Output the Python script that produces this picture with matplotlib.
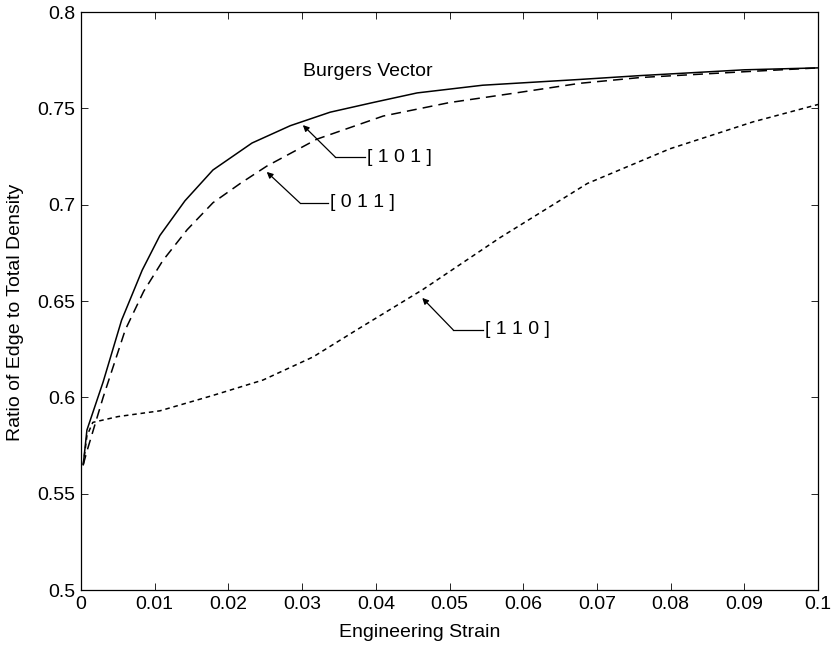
import matplotlib
matplotlib.use('Agg')
import matplotlib.pyplot as plt
from matplotlib.ticker import FuncFormatter, MultipleLocator

plt.rcParams['font.family'] = ['Liberation Sans', 'DejaVu Sans']

# Burgers vector [1 0 1]
strain_101 = [0.0003, 0.0008, 0.003, 0.0055, 0.0083, 0.0107, 0.0141, 0.0179, 0.0232,
              0.0284, 0.0338, 0.0396, 0.0456, 0.0545, 0.0677, 0.0759, 0.09, 0.1]
ratio_101 = [0.565, 0.583, 0.608, 0.640, 0.666, 0.684, 0.702, 0.718, 0.732,
             0.741, 0.748, 0.753, 0.758, 0.762, 0.765, 0.767, 0.770, 0.771]

# Burgers vector [0 1 1]
strain_011 = [0.0003, 0.0008, 0.003, 0.006, 0.0085, 0.0111, 0.0144, 0.0179, 0.0216,
              0.0252, 0.032, 0.041, 0.050, 0.059, 0.0677, 0.0759, 0.09, 0.1]
ratio_011 = [0.565, 0.572, 0.600, 0.635, 0.655, 0.671, 0.687, 0.701, 0.711,
             0.720, 0.734, 0.746, 0.753, 0.758, 0.763, 0.766, 0.769, 0.771]

# Burgers vector [1 1 0]
strain_110 = [0.0003, 0.0008, 0.0016, 0.005, 0.0107, 0.0179, 0.0247, 0.0315,
              0.0374, 0.0464, 0.0569, 0.0687, 0.0799, 0.0912, 0.1]
ratio_110 = [0.565, 0.580, 0.587, 0.590, 0.593, 0.601, 0.609, 0.621,
             0.635, 0.656, 0.683, 0.711, 0.729, 0.743, 0.752]

# label text, arrow tip, elbow, end of the horizontal leader
labels = ['[ 1 0 1 ]', '[ 0 1 1 ]', '[ 1 1 0 ]']
tips = [(0.0301, 0.7413), (0.0252, 0.717), (0.0463, 0.6516)]
elbows = [(0.0345, 0.7247), (0.0297, 0.7009), (0.0505, 0.635)]
leader_ends = [0.0385, 0.0335, 0.0545]

FS = 14

fig = plt.figure(figsize=(8.31, 6.49), dpi=100)
ax = fig.add_axes([0.0975, 0.0909, 0.8869, 0.8906])

ax.plot(strain_101, ratio_101, color='black', linewidth=1.1, linestyle='-')
ax.plot(strain_011, ratio_011, color='black', linewidth=1.1, dashes=(6.5, 4))
ax.plot(strain_110, ratio_110, color='black', linewidth=1.1, dashes=(3, 2.5))

ax.text(0.0301, 0.769, 'Burgers Vector', fontsize=FS, va='center', ha='left')

# arrows with a short horizontal leader to each label
for lab, tip, elb, xend in zip(labels, tips, elbows, leader_ends):
    ax.annotate('', xy=tip, xytext=elb,
                arrowprops=dict(arrowstyle='-|>', color='black', lw=0.9,
                                mutation_scale=9, shrinkA=0, shrinkB=0))
    ax.plot([elb[0], xend], [elb[1], elb[1]], color='black', linewidth=0.9)
    ax.text(xend + 0.0003, elb[1], lab, fontsize=FS, va='center', ha='left')

ax.set_xlim(0, 0.1)
ax.set_ylim(0.5, 0.8)
ax.xaxis.set_major_locator(MultipleLocator(0.01))
ax.yaxis.set_major_locator(MultipleLocator(0.05))
fmt = FuncFormatter(lambda v, p: '%g' % round(v, 4))
ax.xaxis.set_major_formatter(fmt)
ax.yaxis.set_major_formatter(fmt)
ax.tick_params(direction='in', top=True, right=True, length=5, width=0.6,
               labelsize=FS, pad=4)
for sp in ax.spines.values():
    sp.set_linewidth(0.9)

ax.set_xlabel('Engineering Strain', fontsize=FS)
ax.set_ylabel('Ratio of Edge to Total Density', fontsize=FS)
ax.xaxis.set_label_coords(0.46, -0.058)
ax.yaxis.set_label_coords(-0.077, 0.481)

fig.savefig('out.png', dpi=100)
